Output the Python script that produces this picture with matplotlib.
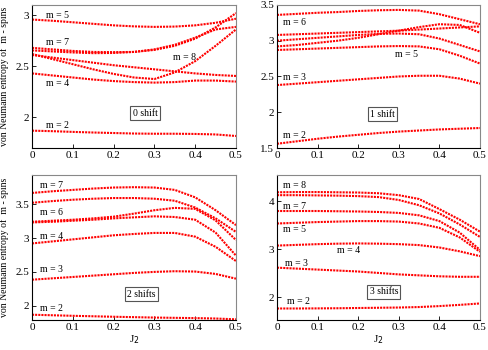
import numpy as np
import matplotlib
matplotlib.use("Agg")
import matplotlib.pyplot as plt

plt.rcParams['font.family'] = ['Liberation Serif', 'DejaVu Serif']

# J2 grid shared by all panels
j2 = [0, 0.05, 0.1, 0.15, 0.2, 0.25, 0.3, 0.35, 0.4, 0.45, 0.5]

# 0 shift
s0_m5 = [2.957, 2.945, 2.93, 2.915, 2.90, 2.89, 2.885, 2.888, 2.90, 2.925, 2.965]
s0_a = [2.68, 2.665, 2.65, 2.64, 2.638, 2.64, 2.66, 2.70, 2.77, 2.88, 3.02]
s0_b = [2.655, 2.645, 2.635, 2.628, 2.63, 2.64, 2.665, 2.71, 2.78, 2.86, 2.885]
s0_m8 = [2.62, 2.57, 2.52, 2.47, 2.425, 2.39, 2.375, 2.44, 2.55, 2.70, 2.86]
s0_c = [2.61, 2.585, 2.56, 2.535, 2.51, 2.49, 2.47, 2.45, 2.43, 2.415, 2.405]
s0_m4 = [2.43, 2.41, 2.39, 2.37, 2.355, 2.345, 2.34, 2.345, 2.36, 2.36, 2.35]
s0_m2 = [1.87, 1.865, 1.858, 1.852, 1.847, 1.842, 1.84, 1.84, 1.838, 1.833, 1.818]

# 1 shift
s1_m6 = [3.36, 3.375, 3.39, 3.40, 3.415, 3.425, 3.43, 3.42, 3.37, 3.30, 3.23]
s1_a = [3.08, 3.09, 3.10, 3.11, 3.12, 3.13, 3.14, 3.155, 3.17, 3.185, 3.20]
s1_b = [2.92, 2.94, 2.97, 3.00, 3.04, 3.09, 3.14, 3.19, 3.23, 3.22, 3.11]
s1_c = [3.00, 3.02, 3.04, 3.06, 3.08, 3.095, 3.10, 3.09, 3.03, 2.94, 2.85]
s1_m5 = [2.87, 2.88, 2.89, 2.90, 2.91, 2.92, 2.925, 2.92, 2.88, 2.79, 2.68]
s1_m3 = [2.38, 2.40, 2.42, 2.44, 2.46, 2.48, 2.50, 2.51, 2.51, 2.47, 2.40]
s1_m2 = [1.56, 1.595, 1.63, 1.66, 1.685, 1.71, 1.73, 1.745, 1.76, 1.77, 1.78]

# 2 shifts
s2_m7 = [3.665, 3.69, 3.71, 3.73, 3.745, 3.75, 3.745, 3.71, 3.60, 3.41, 3.19]
s2_a = [3.52, 3.545, 3.565, 3.58, 3.59, 3.59, 3.58, 3.55, 3.45, 3.29, 3.09]
s2_m6 = [3.24, 3.255, 3.27, 3.29, 3.315, 3.36, 3.41, 3.445, 3.43, 3.26, 2.97]
s2_b = [3.23, 3.24, 3.255, 3.27, 3.29, 3.305, 3.32, 3.31, 3.27, 3.08, 2.74]
s2_m4 = [2.92, 2.95, 2.98, 3.01, 3.04, 3.06, 3.075, 3.075, 3.02, 2.87, 2.66]
s2_m3 = [2.385, 2.405, 2.425, 2.445, 2.465, 2.485, 2.50, 2.51, 2.505, 2.47, 2.40]
s2_m2 = [1.868, 1.86, 1.852, 1.845, 1.838, 1.832, 1.826, 1.822, 1.818, 1.812, 1.80]

# 3 shifts
s3_m8 = [4.19, 4.195, 4.195, 4.19, 4.185, 4.17, 4.13, 4.05, 3.84, 3.62, 3.37]
s3_a = [4.13, 4.13, 4.125, 4.12, 4.11, 4.09, 4.03, 3.92, 3.75, 3.52, 3.26]
s3_m7 = [3.80, 3.80, 3.80, 3.795, 3.79, 3.78, 3.76, 3.71, 3.59, 3.35, 2.99]
s3_m5 = [3.54, 3.555, 3.57, 3.58, 3.59, 3.59, 3.58, 3.54, 3.45, 3.25, 2.95]
s3_m4 = [3.08, 3.095, 3.11, 3.12, 3.125, 3.12, 3.11, 3.09, 3.04, 2.96, 2.86]
s3_m3 = [2.62, 2.60, 2.58, 2.56, 2.54, 2.51, 2.48, 2.46, 2.44, 2.43, 2.43]
s3_m2 = [1.77, 1.77, 1.772, 1.775, 1.78, 1.785, 1.79, 1.80, 1.82, 1.845, 1.875]

xticks = [0, 0.1, 0.2, 0.3, 0.4, 0.5]
xticklabels = ["0", "0.1", "0.2", "0.3", "0.4", "0.5"]

panels = [
    dict(curves=[s0_m5, s0_a, s0_b, s0_m8, s0_c, s0_m4, s0_m2],
         ylim=(1.7, 3.1), yticks=[2, 2.5, 3], yticklabels=["2", "2.5", "3"],
         labels=[(0.035, 3.0, "m = 5"), (0.035, 2.73, "m = 7"), (0.345, 2.585, "m = 8"),
                 (0.035, 2.33, "m = 4"), (0.035, 1.925, "m = 2")],
         box=(0.277, 2.04, "0 shift"), rect=[0.0656, 0.577, 0.418, 0.409], ylabel=True),
    dict(curves=[s1_m6, s1_a, s1_b, s1_c, s1_m5, s1_m3, s1_m2],
         ylim=(1.5, 3.5), yticks=[1.5, 2, 2.5, 3, 3.5],
         yticklabels=["1.5", "2", "2.5", "3", "3.5"],
         labels=[(0.016, 3.25, "m = 6"), (0.29, 2.81, "m = 5"), (0.016, 2.48, "m = 3"),
                 (0.016, 1.68, "m = 2")],
         box=(0.26, 1.975, "1 shift"), rect=[0.5676, 0.577, 0.416, 0.409], ylabel=False),
    dict(curves=[s2_m7, s2_a, s2_m6, s2_b, s2_m4, s2_m3, s2_m2],
         ylim=(1.79, 3.93), yticks=[2, 2.5, 3, 3.5], yticklabels=["2", "2.5", "3", "3.5"],
         labels=[(0.02, 3.78, "m = 7"), (0.02, 3.38, "m = 6"), (0.02, 3.02, "m = 4"),
                 (0.02, 2.535, "m = 3"), (0.02, 1.96, "m = 2")],
         box=(0.268, 2.17, "2 shifts"), rect=[0.0656, 0.0857, 0.418, 0.4143], ylabel=True),
    dict(curves=[s3_m8, s3_a, s3_m7, s3_m5, s3_m4, s3_m3, s3_m2],
         ylim=(1.53, 4.55), yticks=[2, 3, 4], yticklabels=["2", "3", "4"],
         labels=[(0.015, 4.33, "m = 8"), (0.015, 3.9, "m = 7"), (0.015, 3.42, "m = 5"),
                 (0.147, 2.98, "m = 4"), (0.02, 2.71, "m = 3"), (0.025, 1.91, "m = 2")],
         box=(0.263, 2.12, "3 shifts"), rect=[0.5676, 0.0857, 0.416, 0.4143], ylabel=False),
]

fig = plt.figure(figsize=(4.88, 3.5), dpi=100)

for i, p in enumerate(panels):
    ax = fig.add_axes(p["rect"])
    for c in p["curves"]:
        ax.plot(j2, c, color="red", lw=1.5, ls=(0, (1, 0.5)))
    ax.set_xlim(0, 0.5)
    ax.set_ylim(*p["ylim"])
    ax.set_xticks(xticks)
    ax.set_xticklabels(xticklabels)
    ax.set_yticks(p["yticks"])
    ax.set_yticklabels(p["yticklabels"])
    ax.tick_params(direction="in", length=3, width=0.6, labelsize=8, pad=2)
    for s in ["top", "right"]:
        ax.spines[s].set_color("#888888")
    for s in ["left", "bottom"]:
        ax.spines[s].set_color("black")
    for sp in ax.spines.values():
        sp.set_linewidth(0.8)
    for x, y, t in p["labels"]:
        ax.text(x, y, t, fontsize=7, va="center", ha="left")
    bx, by, bt = p["box"]
    ax.text(bx, by, bt, fontsize=7, ha="center", va="center",
            bbox=dict(boxstyle="square,pad=0.25", fc="white", ec="#555555", lw=0.8))
    if p["ylabel"]:
        ax.set_ylabel("von Neumann entropy of  m - spins", fontsize=7, labelpad=5)
    if i >= 2:
        ax.set_xlabel("J$_2$", fontsize=8, labelpad=1)

fig.savefig("out.png", dpi=100)
